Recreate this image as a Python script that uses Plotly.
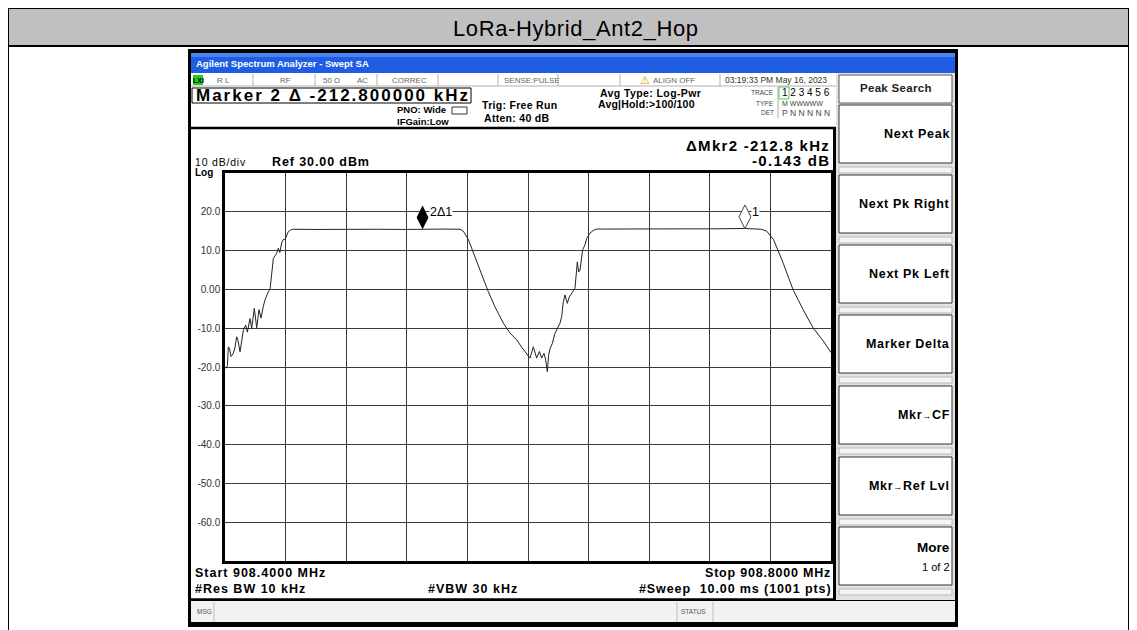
import plotly.graph_objects as go

# %%
# Trace
freq_mhz = [
    908.40000, 908.40080, 908.40160, 908.40220, 908.40300, 908.40396, 908.40552,
    908.40660, 908.40772, 908.40860, 908.40992, 908.41100, 908.41212, 908.41364,
    908.41476, 908.41652, 908.41760, 908.41936, 908.42092, 908.42244, 908.42376,
    908.42520, 908.42640, 908.42860, 908.42972, 908.43192, 908.43412, 908.43520,
    908.43620, 908.43740, 908.43852, 908.43960, 908.44180, 908.44320, 908.44512,
    908.46000, 908.48000, 908.50000, 908.52000, 908.53040, 908.54400, 908.55512,
    908.55732, 908.56060, 908.56392, 908.56640, 908.56940, 908.57380, 908.57820,
    908.58372, 908.58800, 908.59252, 908.59600, 908.59912, 908.60132, 908.60352,
    908.60572, 908.60752, 908.60904, 908.61056, 908.61160, 908.61276, 908.61360,
    908.61452, 908.61600, 908.61784, 908.62000, 908.62112, 908.62224, 908.62320,
    908.62440, 908.62592, 908.62720, 908.62880, 908.63100, 908.63256, 908.63344,
    908.63432, 908.63608, 908.63760, 908.63872, 908.64092, 908.64312, 908.64532,
    908.66000, 908.68000, 908.70000, 908.72000, 908.74320, 908.75400, 908.75756,
    908.76200, 908.76520, 908.76852, 908.77200, 908.77512, 908.78172, 908.78832,
    908.79492, 908.80000,
]
level_dbm = [
    -20.0, -20.3, -19.6, -14.8, -15.2, -17.3, -16.5,
    -15.0, -12.2, -13.2, -16.1, -13.5, -10.5, -9.2,
    -11.0, -7.5, -10.0, -4.9, -9.9, -5.2, -7.4,
    -4.5, -2.7, -0.6, 0.0, 8.0, 9.3, 10.6,
    9.5, 12.0, 12.9, 12.8, 14.9, 15.3, 15.5,
    15.45, 15.55, 15.5, 15.45, 15.56, 15.55, 15.5,
    15.0, 12.9, 9.4, 6.8, 3.7, -0.6, -4.5,
    -8.7, -11.2, -13.0, -15.0, -16.5, -17.7, -14.8,
    -17.7, -16.0, -17.7, -16.5, -18.0, -21.2, -17.0,
    -15.3, -14.0, -11.3, -9.5, -8.7, -7.0, -3.5,
    -1.4, -3.6, -2.0, -1.0, 0.3, 7.1, 4.5,
    5.0, 10.2, 11.5, 13.1, 14.5, 15.2, 15.55,
    15.6, 15.55, 15.6, 15.6, 15.7, 15.5, 15.0,
    12.9, 10.0, 6.7, 3.0, -0.2, -5.3, -10.0,
    -13.3, -16.3,
]

# markers: 1 = reference, 2 = delta marker
marker_names = ["2Δ1", "1"]
marker_freq = [908.5304, 908.7432]
marker_level = [15.56, 15.70]

y_tick_vals = [20, 10, 0, -10, -20, -30, -40, -50, -60]
y_tick_text = ["20.0", "10.0", "0.00", "-10.0", "-20.0", "-30.0", "-40.0", "-50.0", "-60.0"]

softkeys = ["Next Peak", "Next Pk Right", "Next Pk Left", "Marker Delta",
            "Mkr<span style='font-size:9px'>→</span>CF",
            "Mkr<span style='font-size:9px'>→</span>Ref Lvl",
            "More"]

# %%
W, H = 1137, 630
OFF = 8  # page body margin, figure starts 8px in
FONT = "Liberation Sans, Arial, sans-serif"


def px(x):
    return (x - OFF) / W


def py(y):
    return 1 - (y - OFF) / H


shapes = []
annotations = []


def rect(x0, y0, x1, y1, fill=None, line=None, lw=1):
    shapes.append(dict(
        type="rect", xref="paper", yref="paper",
        x0=px(x0), x1=px(x1), y0=py(y1), y1=py(y0),
        fillcolor=fill or "rgba(0,0,0,0)",
        line=dict(color=line or "rgba(0,0,0,0)", width=lw if line else 0),
        layer="below",
    ))


def hline(x0, x1, y, color="black", lw=1):
    shapes.append(dict(type="line", xref="paper", yref="paper",
                       x0=px(x0), x1=px(x1), y0=py(y), y1=py(y),
                       line=dict(color=color, width=lw), layer="below"))


def vline(x, y0, y1, color="black", lw=1):
    shapes.append(dict(type="line", xref="paper", yref="paper",
                       x0=px(x), x1=px(x), y0=py(y0), y1=py(y1),
                       line=dict(color=color, width=lw), layer="below"))


def text(x, y, s, size=10, anchor="left", color="black", bold=False, family=FONT, ls=0):
    if ls:
        s = f"<span style='letter-spacing:{ls}px'>{s}</span>"
    annotations.append(dict(
        xref="paper", yref="paper", x=px(x), y=py(y),
        text=f"<b>{s}</b>" if bold else s, showarrow=False,
        xanchor=anchor, yanchor="middle",
        font=dict(size=size, color=color, family=family),
    ))


# outer report table
rect(8, 8, 1129, 46, fill="#c0c0c0", line="black", lw=2)
vline(8, 46, 640, lw=2)
vline(1129, 46, 640, lw=2)
text(576, 28, "LoRa-Hybrid_Ant2_Hop", size=22, anchor="center",
     family="Liberation Sans Narrow, Arial Narrow, Liberation Sans", ls=0.6)

# instrument screen frame
rect(188, 49, 958, 627, fill="black")
rect(191, 53, 955, 73, fill="#1f5ee0")
rect(191, 53, 955, 57, fill="#4a84f0")
text(194, 63, "Agilent Spectrum Analyzer - Swept SA", size=9.5, color="white", bold=True)
rect(191, 73, 836, 599, fill="white")
rect(836, 73, 955, 600, fill="#e4e2da")
rect(191, 601, 955, 622, fill="#f2f2f2")

# status row
hline(191, 836, 86, color="#b0b0b0")
rect(193, 75, 203, 85, fill="#22cc22")
text(198, 80, "LXI", size=7, anchor="center", bold=True)
for sx in [253, 315, 377, 438, 498, 558, 620, 720]:
    vline(sx, 74, 86, color="#b0b0b0")
for sx, s in [(215, "R L"), (278, "RF"), (321, "50 Ω"), (355, "AC"),
              (390, "CORREC"), (502, "SENSE:PULSE"), (651, "ALIGN OFF")]:
    text(sx, 80, s, size=8, color="#666666")
text(645, 80, "⚠", size=11, anchor="center", color="#d4a000")
text(723, 80, "03:19:33 PM May 16, 2023", size=8.5, color="#333333")

# marker line and settings
rect(192, 88, 471, 103, line="black")
text(194, 96, "Marker 2 Δ -212.800000 kHz", size=17, bold=True, ls=2.0)
text(395, 110, "PNO: Wide", size=9.5, bold=True)
text(395, 121, "IFGain:Low", size=9.5, bold=True)
rect(452, 107, 467, 114, line="#333333")
text(480, 105, "Trig: Free Run", size=10.5, bold=True, ls=0.3)
text(482, 118, "Atten: 40 dB", size=10.5, bold=True, ls=0.3)
text(598, 93, "Avg Type: Log-Pwr", size=10.5, bold=True, ls=0.4)
text(596, 104, "Avg|Hold:>100/100", size=10.5, bold=True, ls=0.2)
text(776, 93, "TRACE", size=6.5, anchor="right", color="#444444")
text(776, 103, "TYPE", size=6.5, anchor="right", color="#444444")
text(776, 113, "DET", size=6.5, anchor="right", color="#444444")
vline(778, 87, 118, color="#aaaaaa")
rect(779, 87, 789, 99, line="#55cc55")
text(780, 93, "1 2 3 4 5 6", size=10)
text(780, 103, "M WWWWW", size=7, color="#444444")
text(780, 113, "P N N N N N", size=8.5, color="#444444")
hline(191, 836, 128, lw=2.5)

# display labels
text(832, 145, "ΔMkr2 -212.8 kHz", size=15, anchor="right", bold=True, ls=1.3)
text(832, 160, "-0.143 dB", size=15, anchor="right", bold=True, ls=1.3)
text(193, 162, "10 dB/div", size=10.5, ls=0.8)
text(193, 172.5, "Log", size=10, bold=True)
text(270, 162, "Ref 30.00 dBm", size=12.5, bold=True, ls=0.9)
text(193, 573, "Start 908.4000 MHz", size=12.5, bold=True, ls=1.0)
text(193, 589, "#Res BW 10 kHz", size=12.5, bold=True, ls=1.0)
text(426, 589, "#VBW 30 kHz", size=12.5, bold=True, ls=1.0)
text(833, 573, "Stop 908.8000 MHz", size=12.5, bold=True, anchor="right", ls=0.8)
text(833, 589, "#Sweep  10.00 ms (1001 pts)", size=12.5, bold=True, anchor="right", ls=0.9)
vline(834.5, 128, 600, lw=3)
hline(191, 836, 599.5, lw=2.5)

# message bar
vline(214, 602, 622, color="#c0c0c0")
vline(677, 602, 622, color="#c0c0c0")
vline(713, 602, 622, color="#c0c0c0")
text(195, 611, "MSG", size=6.5, color="#555555")
text(679, 611, "STATUS", size=6.5, color="#555555")

# softkey panel
rect(839, 75, 952, 103, fill="white", line="#555555")
text(896, 88, "Peak Search", size=11.5, anchor="center", color="#222222", bold=True, ls=0.3)
key_tops = [105, 175, 245, 315, 386, 457, 527]
for top, label in zip(key_tops, softkeys):
    rect(839, top, 952, top + 58, fill="white", line="#333333")
    rect(839, top + 62, 952, top + 68, fill="#f4f4f4", line="#b8b8b8")
    if label == "More":
        text(952, top + 20, label, size=13.5, anchor="right", bold=True)
        text(952, top + 40, "1 of 2", size=11, anchor="right")
    else:
        text(952, top + 29, label, size=12.5, anchor="right", bold=True, ls=0.7)

# %%
fig = go.Figure()

fig.add_trace(go.Scatter(
    x=freq_mhz, y=level_dbm, mode="lines",
    line=dict(color="#222222", width=1),
    showlegend=False, hoverinfo="skip",
))

# marker diamonds sit on the trace, tip touching it
diamond_y = [lv + 3.0 for lv in marker_level]
fig.add_trace(go.Scatter(
    x=[marker_freq[0]], y=[diamond_y[0]], mode="markers",
    marker=dict(symbol="diamond-tall", size=17, color="black"),
    showlegend=False, hoverinfo="skip",
))
fig.add_trace(go.Scatter(
    x=[marker_freq[1]], y=[diamond_y[1]], mode="markers",
    marker=dict(symbol="diamond-tall", size=17, color="white",
                line=dict(color="#444444", width=1)),
    showlegend=False, hoverinfo="skip",
))
for name, f, lv in zip(marker_names, marker_freq, marker_level):
    fig.add_annotation(
        x=f, y=lv + 4.3, xref="x", yref="y", text=name, showarrow=False,
        xanchor="left", yanchor="middle", xshift=6,
        font=dict(size=12.5, color="black", family=FONT), bgcolor="white",
        borderpad=0,
    )

fig.update_layout(
    width=W, height=H,
    margin=dict(l=0, r=0, t=0, b=0),
    paper_bgcolor="white", plot_bgcolor="white",
    shapes=shapes, annotations=list(fig.layout.annotations) + annotations,
    xaxis=dict(
        domain=[px(225), px(831)], range=[908.4, 908.8],
        tickvals=[908.4 + 0.04 * i for i in range(1, 10)],
        showticklabels=False, ticks="",
        showgrid=True, gridcolor="#3a3a3a", gridwidth=1,
        zeroline=False, showline=True, linecolor="black", linewidth=2.5, mirror=True,
    ),
    yaxis=dict(
        domain=[py(561), py(173)], range=[-70, 30],
        tickvals=y_tick_vals, ticktext=y_tick_text,
        tickfont=dict(size=10, color="#333333", family=FONT), ticks="",
        showgrid=True, gridcolor="#3a3a3a", gridwidth=1,
        zeroline=False, showline=True, linecolor="black", linewidth=2.5, mirror=True,
    ),
)

fig.write_html("out.html")
